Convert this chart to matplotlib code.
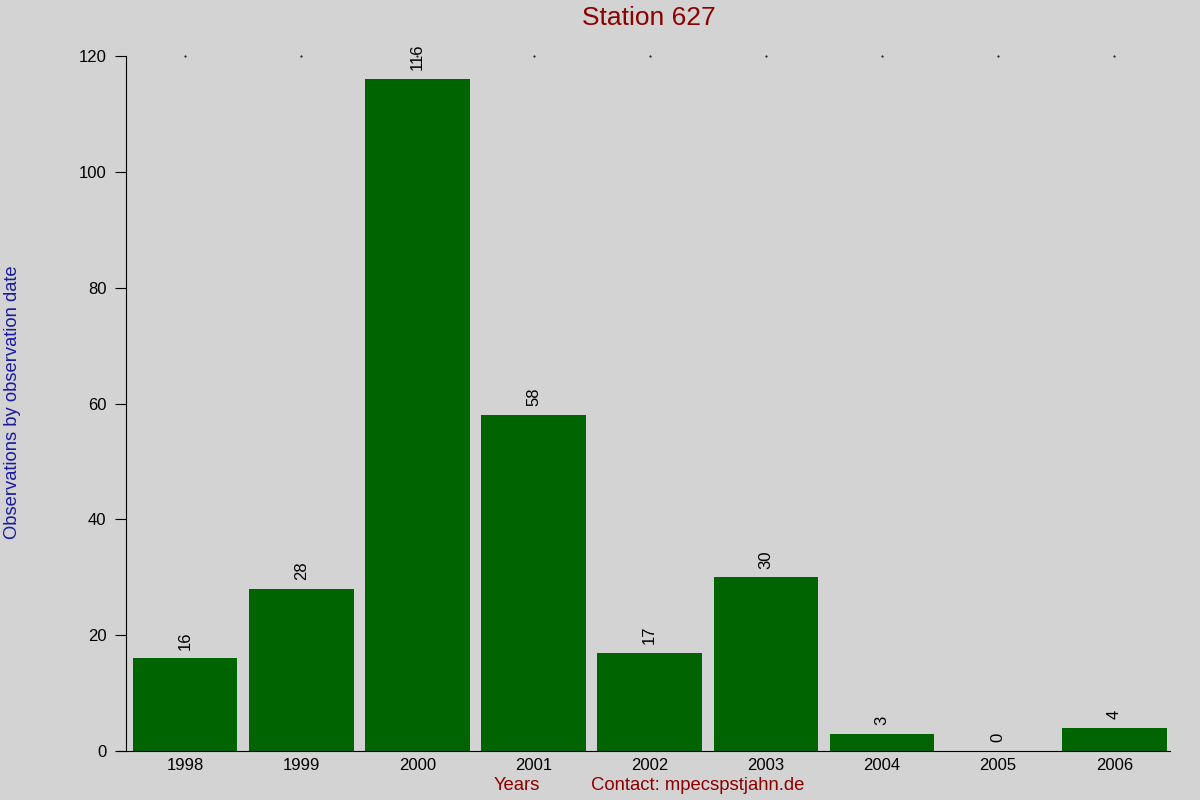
import matplotlib.pyplot as plt
import numpy as np

years = ['1998', '1999', '2000', '2001', '2002', '2003', '2004', '2005', '2006']
counts = [16, 28, 116, 58, 17, 30, 3, 0, 4]

plt.rcParams['font.family'] = ['Liberation Sans', 'DejaVu Sans']

fig = plt.figure(figsize=(12, 8), dpi=100, facecolor='#d3d3d3')
ax = fig.add_axes([0.105, 0.06125, 0.87, 0.86875])
ax.set_facecolor('#d3d3d3')

x = np.arange(len(years))
ax.bar(x, counts, width=0.9, color='#006400')
for _x, _c in zip(x, counts):
    ax.text(_x, _c + 1.5, str(_c), rotation=90, ha='center', va='bottom', fontsize=12)

# small dots along the top edge at each category
ax.scatter(x, [120] * len(x), s=0.25, color='black', clip_on=False)

ax.set_xlim(-0.51, 8.48)
ax.set_ylim(0, 120)
ax.set_xticks(x)
ax.set_xticklabels(years, fontsize=12)
ax.set_yticks(range(0, 121, 20))
ax.tick_params(axis='x', length=0, pad=5)
ax.tick_params(axis='y', length=8, direction='out', labelsize=12, pad=6)
ax.spines['top'].set_visible(False)
ax.spines['right'].set_visible(False)
ax.spines['bottom'].set_bounds(-0.58, 8.48)

fig.text(0.541, 0.977, 'Station 627', ha='center', va='center', fontsize=19, color='#8b0000')
fig.text(0.003, 0.497, 'Observations by observation date', rotation=90, ha='left', va='center',
         fontsize=13.2, color='#1a1aa0')
fig.text(0.431, 0.018, 'Years', ha='center', va='center', fontsize=13.3, color='#8b0000')
fig.text(0.4925, 0.018, 'Contact: mpecspstjahn.de', ha='left', va='center', fontsize=13.3, color='#8b0000')

plt.savefig('out.png', dpi=100, facecolor=fig.get_facecolor())
